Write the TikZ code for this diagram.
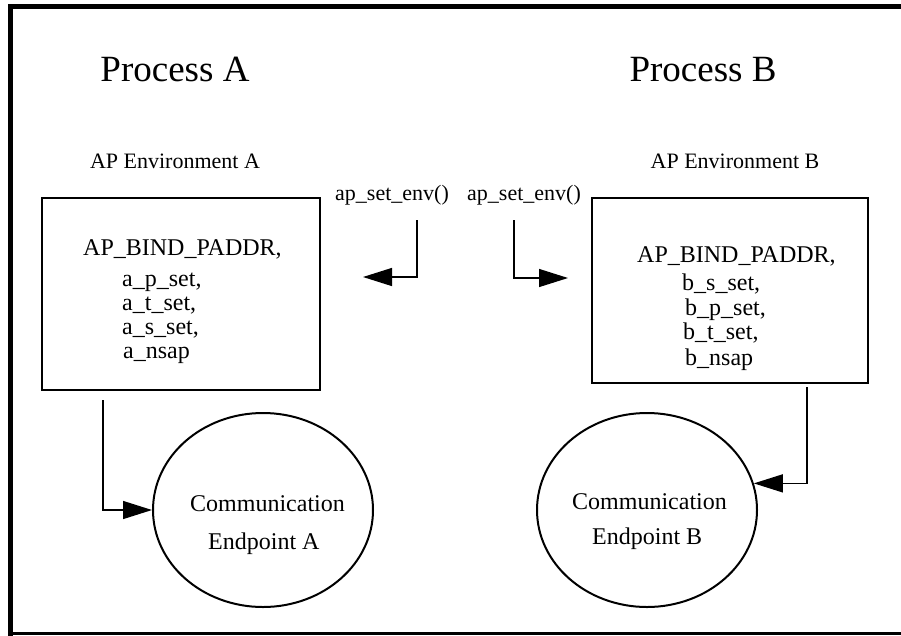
\documentclass[tikz,border=0pt]{standalone}
\usepackage{fontspec}
\setmainfont{Liberation Serif}
\usetikzlibrary{arrows.meta,shapes.geometric}
\newcommand{\us}{\textunderscore}
\begin{document}
\begin{tikzpicture}[x=1pt,y=-1pt,
  title/.style={font=\fontsize{37}{40}\selectfont, anchor=base, inner sep=0},
  envlabel/.style={font=\fontsize{22}{24}\selectfont, anchor=base, inner sep=0},
  body/.style={font=\fontsize{24}{26}\selectfont, anchor=base west, inner sep=0},
  fnlabel/.style={font=\fontsize{22}{24}\selectfont, anchor=base west, inner sep=0},
  envbox/.style={draw, line width=1.5pt, inner sep=0},
  endpoint/.style={draw, ellipse, line width=2pt, inner sep=0},
  conn/.style={line width=1.3pt, -{Triangle[length=29pt,width=18pt]}},
]
\useasboundingbox (0,0) rectangle (901,635);
\clip (0,0) rectangle (901,635);
\fill[white] (0,0) rectangle (901,635);
% outer frame
\draw[line width=5pt] (10.8,650) -- (10.8,6) -- (920,6);
\draw[line width=3pt] (10.8,633.8) -- (920,633.8);

% titles
\node[title] (procA) at (175,81) {Process A};
\node[title] (procB) at (703,81) {Process B};
\node[envlabel] (envA) at (175,168) {AP Environment A};
\node[envlabel] (envB) at (735,168) {AP Environment B};

% boxes
\node[envbox, minimum width=278pt, minimum height=192pt] (boxA) at (181,294) {};
\node[envbox, minimum width=276pt, minimum height=185pt] (boxB) at (730,290.5) {};

% box A text
\node[body] (bindA) at (83,255) {AP\us BIND\us PADDR,};
\node[body] (apset) at (122,286) {a\us p\us set,};
\node[body] (atset) at (122,310) {a\us t\us set,};
\node[body] (asset) at (122,334) {a\us s\us set,};
\node[body] (ansap) at (123,358) {a\us nsap};

% box B text
\node[body] (bindB) at (637,262) {AP\us BIND\us PADDR,};
\node[body] (bsset) at (682,290) {b\us s\us set,};
\node[body] (bpset) at (685,315) {b\us p\us set,};
\node[body] (btset) at (683,339) {b\us t\us set,};
\node[body] (bnsap) at (685,365) {b\us nsap};

% ap_set_env labels
\node[fnlabel] (envcallA) at (335,200) {ap\us set\us env()};
\node[fnlabel] (envcallB) at (467,200) {ap\us set\us env()};

\coordinate (s1) at (417,220);
\coordinate (t1) at (363,277);
\draw[conn] (s1) |- (t1);
\coordinate (s2) at (514,220);
\coordinate (t2) at (568,278);
\draw[conn] (s2) |- (t2);

% endpoints
\node[endpoint, minimum width=220pt, minimum height=194pt] (epA) at (263,510) {};
\node[endpoint, minimum width=220pt, minimum height=194pt] (epB) at (647,510) {};
\node[body] (commA) at (190,511) {Communication};
\node[body] (endA) at (208,549) {Endpoint A};
\node[body] (commB) at (572,509) {Communication};
\node[body] (endB) at (592,544) {Endpoint B};

% connectors box -> endpoint
\coordinate (sA) at (103,400);
\draw[conn] (sA) |- (epA.west);
\coordinate (sB) at (807,387);
\draw[conn] (sB) |- (epB.14);
\end{tikzpicture}
\end{document}
